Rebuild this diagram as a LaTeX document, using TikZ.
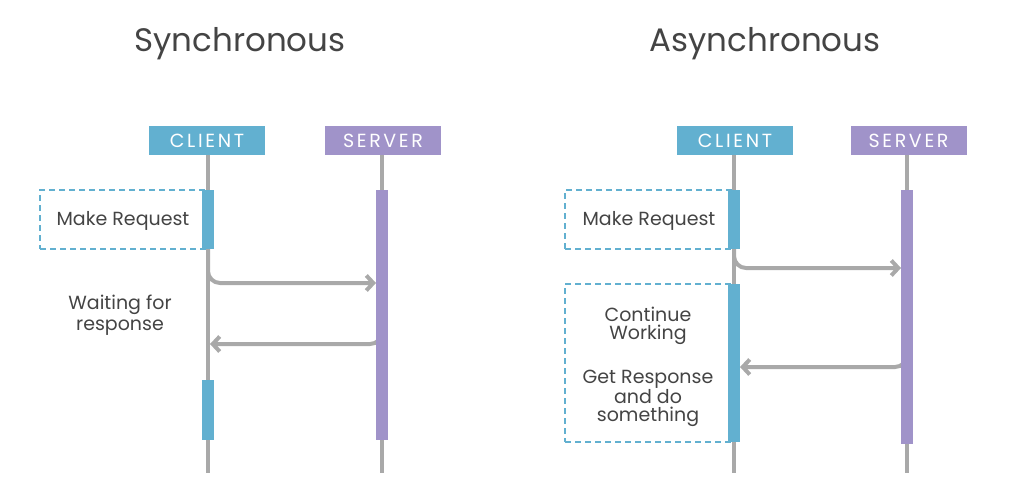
\documentclass[tikz,border=0pt]{standalone}
\usepackage{fontspec}
\setmainfont{Poppins}
\usetikzlibrary{arrows.meta}

\definecolor{clientblue}{HTML}{62B0D0}
\definecolor{serverpurple}{HTML}{A093C9}
\definecolor{linegray}{HTML}{A9A9A9}
\definecolor{textgray}{HTML}{444444}

\tikzset{
  head/.style={minimum width=116, minimum height=29, inner sep=0pt, text=white,
    font=\fontsize{19}{19}\selectfont\addfontfeature{LetterSpace=14}},
  clienthead/.style={head, fill=clientblue},
  serverhead/.style={head, fill=serverpurple},
  lifeline/.style={draw=linegray, line width=4pt},
  clientbar/.style={fill=clientblue, minimum width=12, inner sep=0pt},
  serverbar/.style={fill=serverpurple, minimum width=12, inner sep=0pt},
  note/.style={draw=clientblue, line width=1.5pt, dash pattern=on 6pt off 4pt,
    minimum height=59, inner sep=0pt},
  notetext/.style={text=textgray, align=center, inner sep=0pt,
    font=\fontsize{19}{18}\selectfont},
  msg/.style={draw=linegray, line width=4pt, rounded corners=12pt,
    -{Straight Barb[length=7pt,width=15pt]}},
  title/.style={text=textgray, font=\fontsize{32.5}{32.5}\selectfont}
}

\begin{document}
\begin{tikzpicture}[x=1pt,y=-1pt]
\useasboundingbox (0,0) rectangle (1024,498);

%titles
\node[title] (synctitle) at (240,44) {Synchronous};
\node[title] (asynctitle) at (765,44) {Asynchronous};

%participants
\node[clienthead] (sclient) at (207,140.5) {CLIENT};
\node[serverhead] (sserver) at (383,140.5) {SERVER};
\node[clienthead] (aclient) at (735,140.5) {CLIENT};
\node[serverhead] (aserver) at (908.5,140.5) {SERVER};

%lifelines
\coordinate (sclientend) at (208,473);
\coordinate (sserverend) at (382,473);
\coordinate (aclientend) at (734,473);
\coordinate (aserverend) at (907,473);
\draw[lifeline] (sclient.south -| sclientend) -- (sclientend);
\draw[lifeline] (sserver.south -| sserverend) -- (sserverend);
\draw[lifeline] (aclient.south -| aclientend) -- (aclientend);
\draw[lifeline] (aserver.south -| aserverend) -- (aserverend);

%notes
\node[note, minimum width=168] (smake) at (124,219.5) {};
\node[note, minimum width=169] (amake) at (649.5,219.5) {};
\node[note, minimum width=169, minimum height=158] (awork) at (649.5,363) {};
\node[notetext] (smaketext) at (123,221) {Make Request};
\node[notetext] (amaketext) at (649,221) {Make Request};
\node[notetext] (aworktext) at (648,367)
  {Continue\\Working\\[24pt]Get Response\\and do\\something};
\node[notetext, font=\fontsize{19}{20.5}\selectfont] (swait) at (120,315)
  {Waiting for\\response};

%messages
\coordinate (sreqfrom) at (208,249);
\coordinate (sreqto) at (376,283);
\coordinate (sresfrom) at (382,322);
\coordinate (sresto) at (210,344);
\draw[msg] (sreqfrom) |- (sreqto);
\draw[msg] (sresfrom) |- (sresto);

\coordinate (areqfrom) at (734,249);
\coordinate (areqto) at (901,268);
\coordinate (aresfrom) at (907,340);
\coordinate (aresto) at (740,367);
\draw[msg] (areqfrom) |- (areqto);
\draw[msg] (aresfrom) |- (aresto);

%activation bars
\node[clientbar, minimum height=59] (sc1) at (208,219.5) {};
\node[clientbar, minimum height=60] (sc2) at (208,410) {};
\node[serverbar, minimum height=250] (ss1) at (382,315) {};

\node[clientbar, minimum height=59] (ac1) at (734,219.5) {};
\node[clientbar, minimum height=158] (ac2) at (734,363) {};
\node[serverbar, minimum height=254] (as1) at (907,317) {};
\end{tikzpicture}
\end{document}
